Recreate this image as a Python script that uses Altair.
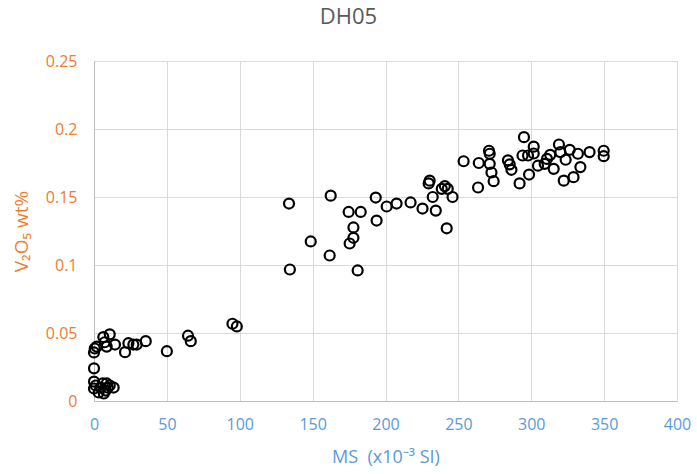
import altair as alt
import pandas as pd

# Magnetic susceptibility (x10^-3 SI) and V2O5 content (wt%) for drill hole DH05
ms = [
    # low-MS, low-V group
    0, 0, 1.2, 3.2, 4.6, 6, 6.7, 8, 8.7, 9.4, 10.8, 13.5, 0,
    # low-MS, ~0.04 group
    0, 0.5, 1.9, 6.4, 10.8, 7.3, 8.7, 14.4, 21.3, 23.6, 27, 29.3, 35.5,
    50, 64.5, 66.4, 95, 98,
    # intermediate group
    133.8, 134.4, 148.7, 161.7, 162.4, 174.7, 175.4, 178, 178, 180.9, 183,
    193.3, 193.9, 200.8, 207.6, 217.2, 225.4, 229.6, 230.3, 232.4, 234.5,
    238.6, 240.7, 242.7, 242, 246,
    # high-MS group
    253.6, 264, 263.5, 271, 271.5, 271.5, 272.7, 274.2, 284, 285.2, 286.4,
    292, 295, 294, 297.8, 301.7, 301.7, 298.5, 304.6, 309.2, 310.8, 313,
    315.4, 319, 320, 323.6, 322.3, 326.4, 329, 332, 333.7, 340, 349.7, 349.7,
]
v2o5 = [
    0.0143, 0.0092, 0.0114, 0.0063, 0.0099, 0.0129, 0.0055, 0.0077, 0.0129,
    0.0099, 0.0114, 0.0099, 0.024,
    0.0357, 0.0386, 0.040, 0.047, 0.049, 0.0432, 0.040, 0.0415, 0.0359,
    0.0425, 0.0415, 0.0415, 0.044,
    0.0366, 0.048, 0.044, 0.0568, 0.0548,
    0.1452, 0.0967, 0.1173, 0.107, 0.151, 0.139, 0.1158, 0.1276, 0.120,
    0.096, 0.139, 0.1496, 0.1327, 0.143, 0.1452, 0.146, 0.1415, 0.160,
    0.162, 0.150, 0.140, 0.156, 0.158, 0.156, 0.127, 0.150,
    0.1763, 0.175, 0.157, 0.184, 0.1818, 0.1744, 0.168, 0.1616, 0.177,
    0.174, 0.170, 0.160, 0.194, 0.1805, 0.1805, 0.187, 0.182, 0.1665,
    0.173, 0.1744, 0.178, 0.181, 0.1707, 0.1886, 0.183, 0.1774, 0.162,
    0.1847, 0.1646, 0.1818, 0.172, 0.183, 0.184, 0.180,
]

x_ticks = [0, 50, 100, 150, 200, 250, 300, 350, 400]
y_ticks = [0, 0.05, 0.1, 0.15, 0.2, 0.25]

df = pd.DataFrame({"MS": ms, "V2O5": v2o5})

ORANGE = "#ED7D31"
BLUE = "#5B9BD5"
FONT = "Open Sans"

chart = (
    alt.Chart(df)
    .mark_point(shape="circle", filled=False, color="black", strokeWidth=2.2, size=100, opacity=1)
    .encode(
        x=alt.X(
            "MS:Q",
            scale=alt.Scale(domain=[0, 400], nice=False),
            axis=alt.Axis(
                values=x_ticks,
                title="MS\u00a0\u00a0(x10⁻³ SI)",
                titleColor=BLUE,
                titleFontSize=18,
                titleFontWeight="normal",
                titleFont=FONT,
                titlePadding=16,
                labelColor=BLUE,
                labelFontSize=16,
                labelFont=FONT,
                labelPadding=15,
                ticks=False,
                domainColor="#BFBFBF",
                gridColor="#D9D9D9",
                labelFlush=False,
            ),
        ),
        y=alt.Y(
            "V2O5:Q",
            scale=alt.Scale(domain=[0, 0.25], nice=False),
            axis=alt.Axis(
                values=y_ticks,
                labelExpr="format(datum.value, '~g')",
                title="V₂O₅ wt%",
                titleColor=ORANGE,
                titleFontSize=19,
                titleFontWeight="normal",
                titleFont=FONT,
                titlePadding=14,
                labelColor=ORANGE,
                labelFontSize=16,
                labelFont=FONT,
                labelPadding=17,
                ticks=False,
                domainColor="#BFBFBF",
                gridColor="#D9D9D9",
            ),
        ),
    )
    .properties(
        width=583,
        height=340,
        title=alt.TitleParams(
            "DH05",
            fontSize=22,
            font=FONT,
            fontWeight="normal",
            color="#595959",
            anchor="middle",
            dx=-37,
            offset=24,
        ),
        padding={"left": 94, "top": 61, "right": 20, "bottom": 73},
        autosize=alt.AutoSizeParams(type="none"),
    )
    .configure_view(stroke=None)
    .configure(background="white")
)

chart.save("out.html", embed_options={"renderer": "svg", "actions": False})
